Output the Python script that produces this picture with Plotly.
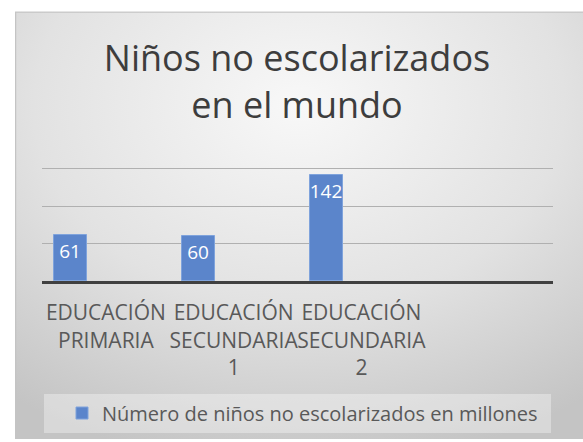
import base64
import plotly.graph_objects as go

# ---- data ----
categories = ["EDUCACIÓN<br>PRIMARIA", "EDUCACIÓN<br>SECUNDARIA<br>1", "EDUCACIÓN<br>SECUNDARIA<br>2"]
values = [61, 60, 142]
y_ticks = [0, 50, 100, 150]
series_name = "Número de niños no escolarizados en millones"
title_text = "Niños no escolarizados<br>en el mundo"

W, H = 583, 442
YMAX = 152.5
BASE_Y, TOP150_Y = 282.3, 169.0          # pixel rows of value 0 and value 150
K = (BASE_Y - TOP150_Y) / 150.0
ML, MR = 42, 30
MB = H - BASE_Y
MT = BASE_Y - YMAX * K
PW, PH = W - ML - MR, H - MT - MB

FONT = "Open Sans"
GRAY = "#595959"

xpos = list(range(len(categories)))

fig = go.Figure()
fig.add_trace(go.Bar(
    x=xpos, y=values, name=series_name,
    width=0.258, offset=-0.403,
    marker=dict(color="#5b85cb", line=dict(color="#7fa3dc", width=1)),
    text=[str(v) for v in values], textposition="inside", insidetextanchor="end",
    constraintext="none", textangle=0,
    textfont=dict(family=FONT, size=19, color="white", weight=500),
    showlegend=True,
))

# background gradient box (chart area)
bx0, by0 = 15, 10
bw, bh = W - bx0, H - by0
svg = f'''<svg xmlns="http://www.w3.org/2000/svg" width="{bw}" height="{bh}" viewBox="0 0 {bw} {bh}">
<defs><radialGradient id="g" cx="50%" cy="22%" r="85%">
<stop offset="0" stop-color="#f8f8f8"/><stop offset="0.55" stop-color="#e2e2e2"/><stop offset="1" stop-color="#c4c4c4"/></radialGradient></defs>
<rect width="{bw}" height="{bh}" fill="url(#g)"/>
<path d="M0.5 {bh} V0.5 H{bw}" stroke="#c4c4c4" stroke-width="1.5" fill="none"/></svg>'''
src = "data:image/svg+xml;base64," + base64.b64encode(svg.encode()).decode()

fig.update_layout(
    width=W, height=H,
    margin=dict(l=ML, r=MR, t=MT, b=MB, pad=0),
    paper_bgcolor="white", plot_bgcolor="rgba(0,0,0,0)",
    font=dict(family=FONT, color=GRAY),
    title=dict(
        text=title_text,
        font=dict(family=FONT, size=36, color="#3d3d3d", weight=500),
        x=297 / W, xanchor="center", xref="container",
        y=1 - 71 / H, yanchor="top", yref="container",
        automargin=False,
    ),
    xaxis=dict(
        range=[-0.5, 3.5], tickvals=xpos, ticktext=categories,
        tickfont=dict(family=FONT, size=21, color=GRAY), tickangle=0,
        showgrid=False, zeroline=False, automargin=False,
        showline=True, linecolor="#404040", linewidth=3,
        ticks="", ticklabelstandoff=11,
    ),
    yaxis=dict(
        range=[0, YMAX], tickvals=y_ticks, showticklabels=False,
        showgrid=True, gridcolor="#b0b0b0", gridwidth=1, zeroline=False,
        automargin=False,
    ),
    legend=dict(
        orientation="h", x=(44 - ML) / PW, xanchor="left",
        y=(PH - (394 - MT)) / PH, yanchor="top",
        bgcolor="rgba(255,255,255,0.35)", borderwidth=0,
        font=dict(family=FONT, size=20, color=GRAY),
        entrywidth=444, indentation=18,
    ),
    images=[dict(
        source=src, xref="paper", yref="paper",
        x=(bx0 - ML) / PW, y=(PH + MT - by0) / PH,
        sizex=bw / PW, sizey=bh / PH,
        xanchor="left", yanchor="top", sizing="stretch", layer="below",
    )],
    bargap=0,
)

fig.write_html("out.html")
